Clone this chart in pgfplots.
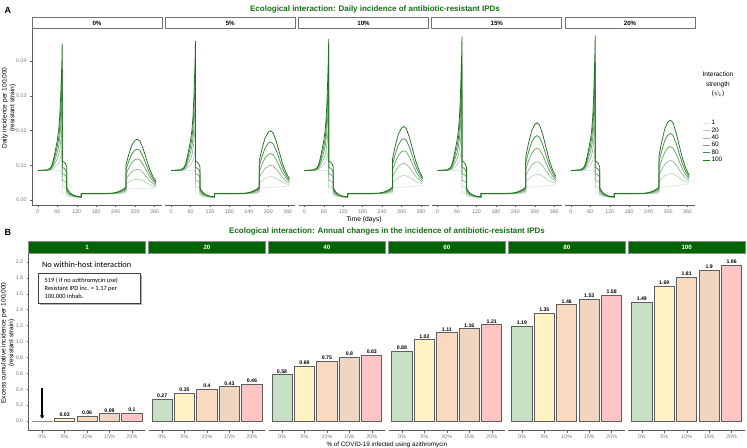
\documentclass[border=0pt]{standalone}
\usepackage{pgfplots}
\usepackage{pgfplotstable}
\pgfplotsset{compat=1.18}
\usetikzlibrary{arrows.meta}
\usepackage{fontspec}
\setmainfont{Liberation Sans}
\newfontfamily\calib{Carlito}

\definecolor{gline}{RGB}{30,115,30}
\colorlet{c1}{gline!14!white}
\colorlet{c20}{gline!30!white}
\colorlet{c40}{gline!47!white}
\colorlet{c60}{gline!64!white}
\colorlet{c80}{gline!82!white}
\colorlet{c100}{gline}
\definecolor{axcol}{RGB}{95,95,95}
\definecolor{tickcol}{RGB}{120,120,120}
\definecolor{stripgreen}{RGB}{0,100,0}
\definecolor{titlegreen}{RGB}{20,110,20}
\definecolor{b0}{RGB}{199,223,197}
\definecolor{b5}{RGB}{255,242,196}
\definecolor{b10}{RGB}{249,217,191}
\definecolor{b15}{RGB}{240,214,192}
\definecolor{b20}{RGB}{255,197,197}
\definecolor{edgecol}{RGB}{95,95,95}

% ---------- data: daily incidence, one table per azithromycin share ----------
\pgfplotstableread{
t p1 p20 p40 p60 p80 p100
0 0.0085 0.0085 0.0085 0.0085 0.0085 0.0085
30 0.0085 0.00854 0.00858 0.00862 0.00866 0.0087
40 0.0085 0.00867 0.00885 0.00904 0.00922 0.0094
45 0.0085 0.00888 0.00928 0.0097 0.0101 0.0105
50 0.0085 0.00926 0.01006 0.0109 0.0117 0.0125
55 0.0085 0.0097 0.01096 0.01228 0.01354 0.0148
60 0.0085 0.01015 0.01189 0.01372 0.01546 0.0172
64 0.0085 0.01069 0.01299 0.0154 0.0177 0.0200
67 0.0085 0.01135 0.01435 0.0175 0.0205 0.0235
70 0.0085 0.0124 0.0165 0.0208 0.0249 0.0290
72 0.0085 0.01335 0.01845 0.0238 0.0289 0.0340
74 0.0085 0.0145 0.0208 0.0274 0.0337 0.0400
75 0.0085 0.01544 0.02274 0.0304 0.0377 0.0450
75 0.0021 0.00383 0.00565 0.00756 0.00938 0.0112
80 0.0021 0.00379 0.00557 0.00744 0.00922 0.0110
85 0.0020 0.00362 0.00532 0.0071 0.0088 0.0105
89 0.0019 0.00334 0.00486 0.00646 0.00798 0.0095
89 0.0012 0.00164 0.0021 0.00258 0.00304 0.0035
95 0.0011 0.00139 0.00169 0.0020 0.0023 0.0026
100 0.0010 0.00119 0.00139 0.0016 0.0018 0.0020
110 0.0009 0.0010 0.0011 0.0012 0.0013 0.0014
120 0.0008 0.00086 0.00092 0.00098 0.00104 0.0011
134 0.0008 0.0008 0.00084 0.00086 0.00088 0.0009
134 0.0018 0.00182 0.00184 0.00186 0.00188 0.0019
200 0.0018 0.00182 0.00184 0.00186 0.00188 0.0019
230 0.0018 0.00184 0.00188 0.00192 0.00196 0.0020
245 0.0018 0.0019 0.0020 0.0021 0.0022 0.0023
255 0.0018 0.00197 0.00215 0.00234 0.00252 0.0027
265 0.0019 0.00215 0.00241 0.00268 0.00294 0.0032
272 0.0020 0.00234 0.0027 0.00308 0.00344 0.0038
272 0.0033 0.0046 0.00596 0.00739 0.00876 0.01012
280 0.0033 0.00514 0.00707 0.0091 0.01103 0.01296
290 0.0033 0.00568 0.00818 0.0108 0.0133 0.0158
300 0.0033 0.00594 0.00873 0.01165 0.01444 0.01722
307 0.0033 0.006 0.00884 0.01182 0.01466 0.0175
315 0.0034 0.00599 0.00872 0.01158 0.0143 0.01703
325 0.0034 0.00556 0.00783 0.01022 0.01249 0.01476
335 0.0034 0.00499 0.00667 0.00843 0.0101 0.01178
345 0.0034 0.00445 0.00556 0.00672 0.00783 0.00894
355 0.0034 0.00405 0.00473 0.00545 0.00613 0.00681
365 0.0034 0.00376 0.00414 0.00454 0.00492 0.0053
}\tA
\pgfplotstableread{
t p1 p20 p40 p60 p80 p100
0 0.0085 0.0085 0.0085 0.0085 0.0085 0.0085
30 0.0085 0.00854 0.00858 0.00862 0.00866 0.0087
40 0.0085 0.00867 0.00885 0.00904 0.00922 0.0094
45 0.0085 0.00888 0.00928 0.0097 0.0101 0.0105
50 0.0085 0.00926 0.01006 0.0109 0.0117 0.0125
55 0.0085 0.0097 0.01096 0.01228 0.01354 0.0148
60 0.0085 0.01015 0.01189 0.01372 0.01546 0.0172
64 0.0085 0.01069 0.01299 0.0154 0.0177 0.0200
67 0.0085 0.01135 0.01435 0.0175 0.0205 0.0235
70 0.0085 0.0124 0.0165 0.0208 0.0249 0.0290
72 0.0085 0.01346 0.01868 0.02416 0.02938 0.0346
74 0.0085 0.01462 0.02106 0.02782 0.03426 0.0407
75 0.0085 0.01559 0.02305 0.03088 0.03834 0.0458
75 0.0021 0.00383 0.00565 0.00756 0.00938 0.0112
80 0.0021 0.00379 0.00557 0.00744 0.00922 0.0110
85 0.0020 0.00362 0.00532 0.0071 0.0088 0.0105
89 0.0019 0.00334 0.00486 0.00646 0.00798 0.0095
89 0.0012 0.00164 0.0021 0.00258 0.00304 0.0035
95 0.0011 0.00139 0.00169 0.0020 0.0023 0.0026
100 0.0010 0.00119 0.00139 0.0016 0.0018 0.0020
110 0.0009 0.0010 0.0011 0.0012 0.0013 0.0014
120 0.0008 0.00086 0.00092 0.00098 0.00104 0.0011
134 0.0008 0.0008 0.00084 0.00086 0.00088 0.0009
134 0.0018 0.00182 0.00184 0.00186 0.00188 0.0019
200 0.0018 0.00182 0.00184 0.00186 0.00188 0.0019
230 0.0018 0.00184 0.00188 0.00192 0.00196 0.0020
245 0.0018 0.0019 0.0020 0.0021 0.0022 0.0023
255 0.0018 0.00197 0.00215 0.00234 0.00252 0.0027
265 0.0019 0.00215 0.00241 0.00268 0.00294 0.0032
272 0.0020 0.00234 0.0027 0.00308 0.00344 0.0038
272 0.0034 0.00489 0.00645 0.00809 0.00966 0.01122
280 0.00345 0.00556 0.00777 0.0101 0.01231 0.01453
290 0.00352 0.00624 0.00911 0.01212 0.01499 0.01786
300 0.00358 0.00661 0.00981 0.01316 0.01636 0.01955
307 0.00363 0.00673 0.00999 0.01341 0.01667 0.01993
315 0.00368 0.00665 0.00978 0.01307 0.0162 0.01933
325 0.00374 0.00622 0.00883 0.01156 0.01417 0.01678
335 0.00381 0.00564 0.00756 0.00958 0.01151 0.01343
345 0.00387 0.00508 0.00635 0.00769 0.00896 0.01023
355 0.00394 0.00468 0.00546 0.00629 0.00707 0.00785
365 0.0040 0.00441 0.00485 0.00531 0.00574 0.00618
}\tB
\pgfplotstableread{
t p1 p20 p40 p60 p80 p100
0 0.0085 0.0085 0.0085 0.0085 0.0085 0.0085
30 0.0085 0.00854 0.00858 0.00862 0.00866 0.0087
40 0.0085 0.00867 0.00885 0.00904 0.00922 0.0094
45 0.0085 0.00888 0.00928 0.0097 0.0101 0.0105
50 0.0085 0.00926 0.01006 0.0109 0.0117 0.0125
55 0.0085 0.0097 0.01096 0.01228 0.01354 0.0148
60 0.0085 0.01015 0.01189 0.01372 0.01546 0.0172
64 0.0085 0.01069 0.01299 0.0154 0.0177 0.0200
67 0.0085 0.01135 0.01435 0.0175 0.0205 0.0235
70 0.0085 0.0124 0.0165 0.0208 0.0249 0.0290
72 0.0085 0.01352 0.0188 0.02434 0.02962 0.0349
74 0.0085 0.01469 0.02121 0.02806 0.03458 0.0411
75 0.0085 0.01568 0.02324 0.03118 0.03874 0.0463
75 0.0021 0.00383 0.00565 0.00756 0.00938 0.0112
80 0.0021 0.00379 0.00557 0.00744 0.00922 0.0110
85 0.0020 0.00362 0.00532 0.0071 0.0088 0.0105
89 0.0019 0.00334 0.00486 0.00646 0.00798 0.0095
89 0.0012 0.00164 0.0021 0.00258 0.00304 0.0035
95 0.0011 0.00139 0.00169 0.0020 0.0023 0.0026
100 0.0010 0.00119 0.00139 0.0016 0.0018 0.0020
110 0.0009 0.0010 0.0011 0.0012 0.0013 0.0014
120 0.0008 0.00086 0.00092 0.00098 0.00104 0.0011
134 0.0008 0.0008 0.00084 0.00086 0.00088 0.0009
134 0.0018 0.00182 0.00184 0.00186 0.00188 0.0019
200 0.0018 0.00182 0.00184 0.00186 0.00188 0.0019
230 0.0018 0.00184 0.00188 0.00192 0.00196 0.0020
245 0.0018 0.0019 0.0020 0.0021 0.0022 0.0023
255 0.0018 0.00197 0.00215 0.00234 0.00252 0.0027
265 0.0019 0.00215 0.00241 0.00268 0.00294 0.0032
272 0.0020 0.00234 0.0027 0.00308 0.00344 0.0038
272 0.0035 0.00509 0.00676 0.00851 0.01018 0.01185
280 0.00356 0.00581 0.00817 0.01066 0.01302 0.01539
290 0.00364 0.00655 0.00961 0.01283 0.01589 0.01895
300 0.00371 0.00695 0.01036 0.01394 0.01735 0.02076
307 0.00376 0.00707 0.01055 0.0142 0.01768 0.02116
315 0.00382 0.00699 0.01033 0.01384 0.01718 0.02052
325 0.0039 0.00654 0.00933 0.01225 0.01504 0.01782
335 0.00397 0.00592 0.00798 0.01013 0.01219 0.01424
345 0.00405 0.00534 0.0067 0.00812 0.00948 0.01084
355 0.00412 0.00491 0.00575 0.00663 0.00746 0.0083
365 0.0042 0.00464 0.00511 0.0056 0.00606 0.00653
}\tC
\pgfplotstableread{
t p1 p20 p40 p60 p80 p100
0 0.0085 0.0085 0.0085 0.0085 0.0085 0.0085
30 0.0085 0.00854 0.00858 0.00862 0.00866 0.0087
40 0.0085 0.00867 0.00885 0.00904 0.00922 0.0094
45 0.0085 0.00888 0.00928 0.0097 0.0101 0.0105
50 0.0085 0.00926 0.01006 0.0109 0.0117 0.0125
55 0.0085 0.0097 0.01096 0.01228 0.01354 0.0148
60 0.0085 0.01015 0.01189 0.01372 0.01546 0.0172
64 0.0085 0.01069 0.01299 0.0154 0.0177 0.0200
67 0.0085 0.01135 0.01435 0.0175 0.0205 0.0235
70 0.0085 0.0124 0.0165 0.0208 0.0249 0.0290
72 0.0085 0.01361 0.01899 0.02464 0.03002 0.0354
74 0.0085 0.01481 0.02145 0.02842 0.03506 0.0417
75 0.0085 0.01582 0.02352 0.0316 0.0393 0.0470
75 0.0021 0.00383 0.00565 0.00756 0.00938 0.0112
80 0.0021 0.00379 0.00557 0.00744 0.00922 0.0110
85 0.0020 0.00362 0.00532 0.0071 0.0088 0.0105
89 0.0019 0.00334 0.00486 0.00646 0.00798 0.0095
89 0.0012 0.00164 0.0021 0.00258 0.00304 0.0035
95 0.0011 0.00139 0.00169 0.0020 0.0023 0.0026
100 0.0010 0.00119 0.00139 0.0016 0.0018 0.0020
110 0.0009 0.0010 0.0011 0.0012 0.0013 0.0014
120 0.0008 0.00086 0.00092 0.00098 0.00104 0.0011
134 0.0008 0.0008 0.00084 0.00086 0.00088 0.0009
134 0.0018 0.00182 0.00184 0.00186 0.00188 0.0019
200 0.0018 0.00182 0.00184 0.00186 0.00188 0.0019
230 0.0018 0.00184 0.00188 0.00192 0.00196 0.0020
245 0.0018 0.0019 0.0020 0.0021 0.0022 0.0023
255 0.0018 0.00197 0.00215 0.00234 0.00252 0.0027
265 0.0019 0.00215 0.00241 0.00268 0.00294 0.0032
272 0.0020 0.00234 0.0027 0.00308 0.00344 0.0038
272 0.0036 0.00527 0.00702 0.00887 0.01062 0.01238
280 0.00367 0.00603 0.00852 0.01113 0.01362 0.01611
290 0.00376 0.00682 0.01004 0.01342 0.01664 0.01986
300 0.00384 0.00725 0.01083 0.0146 0.01818 0.02177
307 0.0039 0.00738 0.01104 0.01488 0.01854 0.0222
315 0.00397 0.00731 0.01082 0.01451 0.01803 0.02154
325 0.00406 0.00684 0.00977 0.01284 0.01577 0.0187
335 0.00414 0.00619 0.00835 0.01062 0.01278 0.01494
345 0.00423 0.00559 0.00701 0.00851 0.00994 0.01137
355 0.00431 0.00514 0.00602 0.00694 0.00782 0.0087
365 0.0044 0.00487 0.00536 0.00587 0.00636 0.00685
}\tD
\pgfplotstableread{
t p1 p20 p40 p60 p80 p100
0 0.0085 0.0085 0.0085 0.0085 0.0085 0.0085
30 0.0085 0.00854 0.00858 0.00862 0.00866 0.0087
40 0.0085 0.00867 0.00885 0.00904 0.00922 0.0094
45 0.0085 0.00888 0.00928 0.0097 0.0101 0.0105
50 0.0085 0.00926 0.01006 0.0109 0.0117 0.0125
55 0.0085 0.0097 0.01096 0.01228 0.01354 0.0148
60 0.0085 0.01015 0.01189 0.01372 0.01546 0.0172
64 0.0085 0.01069 0.01299 0.0154 0.0177 0.0200
67 0.0085 0.01135 0.01435 0.0175 0.0205 0.0235
70 0.0085 0.0124 0.0165 0.0208 0.0249 0.0290
72 0.0085 0.01365 0.01907 0.02476 0.03018 0.0356
74 0.0085 0.01487 0.02157 0.0286 0.0353 0.0420
75 0.0085 0.01587 0.02363 0.03178 0.0395 0.0473
75 0.0021 0.00383 0.00565 0.00756 0.00938 0.0112
80 0.0021 0.00379 0.00557 0.00744 0.00922 0.0110
85 0.0020 0.00362 0.00532 0.0071 0.0088 0.0105
89 0.0019 0.00334 0.00486 0.00646 0.00798 0.0095
89 0.0012 0.00164 0.0021 0.00258 0.00304 0.0035
95 0.0011 0.00139 0.00169 0.0020 0.0023 0.0026
100 0.0010 0.00119 0.00139 0.0016 0.0018 0.0020
110 0.0009 0.0010 0.0011 0.0012 0.0013 0.0014
120 0.0008 0.00086 0.00092 0.00098 0.00104 0.0011
134 0.0008 0.0008 0.00084 0.00086 0.00088 0.0009
134 0.0018 0.00182 0.00184 0.00186 0.00188 0.0019
200 0.0018 0.00182 0.00184 0.00186 0.00188 0.0019
230 0.0018 0.00184 0.00188 0.00192 0.00196 0.0020
245 0.0018 0.0019 0.0020 0.0021 0.0022 0.0023
255 0.0018 0.00197 0.00215 0.00234 0.00252 0.0027
265 0.0019 0.00215 0.00241 0.00268 0.00294 0.0032
272 0.0020 0.00234 0.0027 0.00308 0.00344 0.0038
272 0.0036 0.00533 0.00716 0.00907 0.0109 0.01272
280 0.00369 0.00614 0.00873 0.01144 0.01403 0.01661
290 0.00379 0.00697 0.01031 0.01382 0.01717 0.02051
300 0.0039 0.00744 0.01116 0.01507 0.0188 0.02252
307 0.00398 0.00759 0.01139 0.01538 0.01918 0.02298
315 0.00406 0.00753 0.01117 0.015 0.01865 0.0223
325 0.00417 0.00706 0.0101 0.01329 0.01633 0.01937
335 0.00428 0.00641 0.00865 0.01101 0.01325 0.01549
345 0.00439 0.0058 0.00728 0.00884 0.01032 0.0118
355 0.00449 0.00536 0.00627 0.00723 0.00814 0.00905
365 0.0046 0.00508 0.00559 0.00613 0.00664 0.00715
}\tE

\newcommand\sixlines[1]{%
  \addplot[c1] table[x=t,y=p1]{#1};
  \addplot[c20] table[x=t,y=p20]{#1};
  \addplot[c40] table[x=t,y=p40]{#1};
  \addplot[c60] table[x=t,y=p60]{#1};
  \addplot[c80] table[x=t,y=p80]{#1};
  \addplot[c100] table[x=t,y=p100]{#1};
}
\newcommand\onebar[3]{% x, value, colour
  \addplot[ybar, bar width=0.9, fill=#3, draw=edgecol, line width=0.8bp,
    point meta=explicit symbolic,
    nodes near coords, nodes near coords style={font=\bfseries\fontsize{5.2}{6}\selectfont, text=black, inner sep=1.2bp}]
    coordinates {(#1,#2) [#2]};
}
\newcommand\fivebars[5]{%
  \onebar{1}{#1}{b0}\onebar{2}{#2}{b5}\onebar{3}{#3}{b10}\onebar{4}{#4}{b15}\onebar{5}{#5}{b20}
}

\pgfplotsset{
  common/.style={
    scale only axis, anchor=south west,
    axis x line*=bottom, axis y line*=left,
    axis line style={axcol, line width=0.6bp, -},
    tick align=outside, major tick length=2bp,
    tick style={axcol, line width=0.4bp},
    ticklabel style={font=\fontsize{5.3}{6}\selectfont, text=tickcol},
    /pgf/number format/assume math mode=true,
    scaled y ticks=false,
  },
  toppanel/.style={
    common, width=130bp, height=176bp,
    xmin=-18.25, xmax=383.25, ymin=-0.0014, ymax=0.0492,
    xtick={0,60,120,180,240,300,360},
    ytick={0,0.01,0.02,0.03,0.04},
    yticklabel style={/pgf/number format/.cd, fixed, fixed zerofill, precision=2},
    every axis plot/.append style={line width=0.75bp, no markers},
    xticklabel style={yshift=1bp},
  },
  botpanel/.style={
    common, width=116.7bp, height=177.4bp,
    xmin=0.4, xmax=5.6, ymin=-0.122, ymax=2.109,
    xtick={1,2,3,4,5}, xticklabels={0\%,5\%,10\%,15\%,20\%},
    xticklabel style={yshift=1.3bp},
    ytick={0,0.2,0.4,0.6,0.8,1.0,1.2,1.4,1.6,1.8,2.0},
    yticklabel style={/pgf/number format/.cd, fixed, fixed zerofill, precision=1},
    clip=false,
  },
  noy/.style={axis y line=none, ytick=\empty},
}

\begin{document}
\begin{tikzpicture}[x=1bp,y=1bp]
\path[use as bounding box] (0,0) rectangle (747,448);

% ================= Panel A =================
\node[font=\bfseries\fontsize{9}{10}\selectfont, anchor=west] at (1,438) {A};
\node[font=\bfseries\fontsize{8}{9}\selectfont, text=titlegreen] at (375,439) {Ecological interaction: Daily incidence of antibiotic-resistant IPDs};

\begin{axis}[toppanel, at={(32bp,243bp)}]
\sixlines{\tA}
\end{axis}
\begin{axis}[toppanel, noy, at={(165.25bp,243bp)}]
\sixlines{\tB}
\end{axis}
\begin{axis}[toppanel, noy, at={(298.5bp,243bp)}]
\sixlines{\tC}
\end{axis}
\begin{axis}[toppanel, noy, at={(431.75bp,243bp)}]
\sixlines{\tD}
\end{axis}
\begin{axis}[toppanel, noy, at={(565bp,243bp)},
  legend style={at={(1.054,0.491)}, anchor=north west, draw=none, fill=none,
    font=\fontsize{6.5}{7}\selectfont, row sep=-1.6bp, inner sep=0pt,
    nodes={inner sep=1.5bp}},
  legend cell align=left,
  legend image code/.code={\draw[#1, line width=0.8bp] (0bp,0bp) -- (7bp,0bp);}]
\sixlines{\tE}
\legend{1,20,40,60,80,100}
\end{axis}

% strips A
\foreach \xl/\lab in {32/0\%, 165.25/5\%, 298.5/10\%, 431.75/15\%, 565/20\%}{
  \draw[draw=black!55, fill=white, line width=0.8bp] (\xl,419.3) rectangle ++(130,11.4);
  \node[font=\bfseries\fontsize{6.2}{7}\selectfont] at (\xl+65,425) {\lab};
}
\node[font=\fontsize{6.8}{8}\selectfont] at (364,228.5) {Time (days)};
\node[font=\fontsize{6.6}{7.6}\selectfont, rotate=90, align=center] at (8.8,340) {Daily incidence per 100,000\\(resistant strain)};
% legend title
\node[font=\fontsize{6.6}{7}\selectfont] at (718,373.7) {Interaction};
\node[font=\fontsize{6.6}{7}\selectfont] at (718,363) {strength};
\node[font=\fontsize{6.6}{7}\selectfont] at (718,354) {($\psi_{\mathrm{c}}$)};

% ================= Panel B =================
\node[font=\bfseries\fontsize{9}{10}\selectfont, anchor=west] at (1,216) {B};
\node[font=\bfseries\fontsize{8}{9}\selectfont, text=titlegreen] at (387,216.5) {Ecological interaction: Annual changes in the incidence of antibiotic-resistant IPDs};

\begin{axis}[botpanel, at={(28.7bp,17.3bp)}]
\addplot[ybar, bar width=0.9, fill=b0, draw=black!45, line width=0.8bp] coordinates {(1,-0.01)};
\onebar{2}{0.03}{b5}\onebar{3}{0.06}{b10}\onebar{4}{0.09}{b15}\onebar{5}{0.1}{b20}
\addplot[black, line width=1.6bp, -{Stealth[length=3.5bp, width=4.5bp]}] coordinates {(1,0.41) (1,0.03)};
\end{axis}
\begin{axis}[botpanel, noy, at={(148.63bp,17.3bp)}]
\fivebars{0.27}{0.35}{0.4}{0.43}{0.46}
\end{axis}
\begin{axis}[botpanel, noy, at={(268.56bp,17.3bp)}]
\fivebars{0.58}{0.69}{0.75}{0.8}{0.83}
\end{axis}
\begin{axis}[botpanel, noy, at={(388.49bp,17.3bp)}]
\fivebars{0.88}{1.02}{1.11}{1.16}{1.21}
\end{axis}
\begin{axis}[botpanel, noy, at={(508.42bp,17.3bp)}]
\fivebars{1.19}{1.35}{1.46}{1.53}{1.58}
\end{axis}
\begin{axis}[botpanel, noy, at={(628.35bp,17.3bp)}]
\fivebars{1.49}{1.69}{1.81}{1.9}{1.96}
\end{axis}

% strips B
\foreach \xl/\lab in {28.7/1, 148.63/20, 268.56/40, 388.49/60, 508.42/80, 628.35/100}{
  \draw[draw=black!45, fill=stripgreen, line width=0.8bp] (\xl,194.7) rectangle ++(116.7,11.4);
  \node[font=\bfseries\fontsize{6.2}{7}\selectfont, text=white] at (\xl+58.35,200.4) {\lab};
}
% annotation
\node[font=\calib\fontsize{8.4}{9}\selectfont, anchor=west] at (38.5,183.5) {No within-host interaction};
\fill[black!30] (39.8,143.2) rectangle (142.2,173.2);
\draw[fill=white, draw=black!75, line width=0.7bp] (38.3,144.7) rectangle (140.7,174.7);
\node[font=\calib\fontsize{6.4}{8.1}\selectfont, align=left, anchor=north west, inner sep=0pt] at (44.5,170.8) {519 ( if no azithromycin use)\\Resistant IPD inc. = 1.17 per\\100,000 inhab.};

\node[font=\fontsize{6.6}{7.6}\selectfont, rotate=90, align=center] at (7.8,105) {Excess cumulative incidence per 100,000\\(resistant strain)};
\node[font=\fontsize{6.3}{7}\selectfont] at (387,3.6) {\% of COVID-19 infected using azithromycin};
\end{tikzpicture}
\end{document}
